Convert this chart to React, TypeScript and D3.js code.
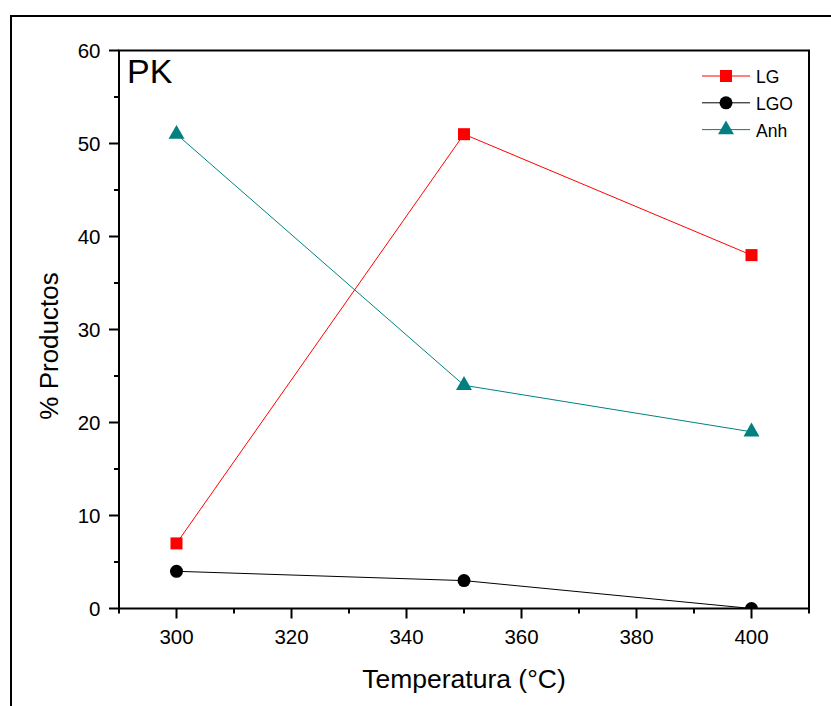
import React from "react";
import * as d3 from "d3";

const temps = [300, 350, 400];
const lgValues = [7, 51, 38];
const lgoValues = [4, 3, 0];
const anhValues = [51, 24, 19];
const xTicks = [300, 320, 340, 360, 380, 400];
const yTicks = [0, 10, 20, 30, 40, 50, 60];
const seriesNames = ["LG", "LGO", "Anh"];
const seriesColors = ["#ff0000", "#000000", "#008080"];

export default function App() {
  const W = 831, H = 706;
  const left = 119, right = 809, top = 50.5, bottom = 608.5;
  const x = d3.scaleLinear().domain([290, 410]).range([left, right]);
  const y = d3.scaleLinear().domain([0, 60]).range([bottom, top]);
  const font = "Arial, 'Liberation Sans', sans-serif";
  const series = [lgValues, lgoValues, anhValues];
  const line = d3.line<number>().x((_, i) => x(temps[i])).y((d) => y(d));
  const xMinor = d3.range(290, 411, 10).filter((v) => !xTicks.includes(v));
  const yMinor = d3.range(5, 60, 10);

  const marker = (k: number, cx: number, cy: number, key: string) => {
    const c = seriesColors[k];
    if (k === 0) return <rect key={key} x={cx - 6} y={cy - 6} width={12} height={12} fill={c} />;
    if (k === 1) return <circle key={key} cx={cx} cy={cy} r={6.5} fill={c} />;
    const s = d3.symbol().type(d3.symbolTriangle).size(110)();
    return <path key={key} d={s as string} transform={`translate(${cx},${cy})`} fill={c} />;
  };

  return (
    <svg width={W} height={H} style={{ position: "absolute", left: 0, top: 0 }} fontFamily={font}>
      <defs>
        <clipPath id="plotClip">
          <rect x={left} y={top} width={right - left} height={bottom - top} />
        </clipPath>
      </defs>
      <rect x={0} y={0} width={W} height={H} fill="#fff" />
      <rect x={11} y={16} width={900} height={900} fill="none" stroke="#000" strokeWidth={2} />
      <g clipPath="url(#plotClip)">
        {series.map((vals, k) => (
          <path key={"l" + k} d={line(vals) as string} fill="none" stroke={seriesColors[k]} strokeWidth={1} />
        ))}
        {series.map((vals, k) => vals.map((v, i) => marker(k, x(temps[i]), y(v), `m${k}${i}`)))}
      </g>
      <rect x={left} y={top} width={right - left} height={bottom - top} fill="none" stroke="#000" strokeWidth={2} />
      {xTicks.map((t) => (
        <g key={"xt" + t}>
          <line x1={x(t)} x2={x(t)} y1={bottom} y2={bottom + 10} stroke="#000" strokeWidth={2} />
          <text x={x(t)} y={bottom + 35.5} textAnchor="middle" fontSize={20.5}>{t}</text>
        </g>
      ))}
      {xMinor.map((t) => (
        <line key={"xm" + t} x1={x(t)} x2={x(t)} y1={bottom} y2={bottom + 5} stroke="#000" strokeWidth={2} />
      ))}
      {yTicks.map((t) => (
        <g key={"yt" + t}>
          <line x1={left - 10} x2={left} y1={y(t)} y2={y(t)} stroke="#000" strokeWidth={2} />
          <text x={left - 18.5} y={y(t) + 7} textAnchor="end" fontSize={20.5}>{t}</text>
        </g>
      ))}
      {yMinor.map((t) => (
        <line key={"ym" + t} x1={left - 5} x2={left} y1={y(t)} y2={y(t)} stroke="#000" strokeWidth={2} />
      ))}
      <text x={464} y={688} textAnchor="middle" fontSize={26.5}>Temperatura (°C)</text>
      <text transform={`translate(58,346) rotate(-90)`} textAnchor="middle" fontSize={26}>% Productos</text>
      <text x={127} y={83} fontSize={34}>PK</text>
      {seriesNames.map((n, k) => {
        const ly = 76 + k * 26.8;
        return (
          <g key={"lg" + k}>
            <line x1={702} x2={750} y1={ly} y2={ly} stroke={seriesColors[k]} strokeWidth={1} />
            {marker(k, 726, ly, "lm" + k)}
            <text x={756} y={ly + 7} fontSize={17.5}>{n}</text>
          </g>
        );
      })}
    </svg>
  );
}
